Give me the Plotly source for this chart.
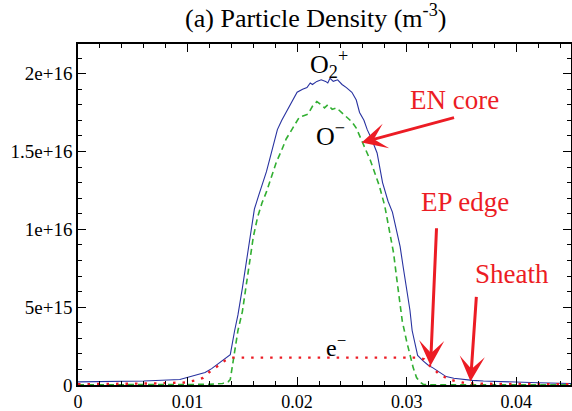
import plotly.graph_objects as go

# ---- data (densities in m^-3) ----
x_o2p = [0, 0.003, 0.006, 0.0093, 0.0105, 0.0116, 0.0122, 0.0127, 0.0132, 0.0139, 0.0143,
         0.0146, 0.015, 0.0154, 0.0158, 0.0161, 0.0165, 0.0168, 0.0172, 0.0175, 0.0179,
         0.0182, 0.0186, 0.019, 0.0195, 0.02, 0.0205, 0.0209, 0.0212, 0.0214, 0.0218,
         0.0222, 0.0226, 0.0228, 0.023, 0.0233, 0.0237, 0.0241, 0.0245, 0.025, 0.0254,
         0.0257, 0.0261, 0.0264, 0.0268, 0.0273, 0.0278, 0.0283, 0.0287, 0.0291, 0.0294,
         0.0297, 0.03, 0.0303, 0.0305, 0.0308, 0.031, 0.0315, 0.032, 0.0324, 0.033,
         0.0336, 0.0343, 0.0351, 0.036, 0.037, 0.0382, 0.04, 0.042, 0.045]
y_o2p = [0.020, 0.022, 0.026, 0.035, 0.060, 0.080, 0.105, 0.130, 0.160, 0.195, 0.35,
         0.45, 0.62, 0.81, 0.98, 1.13, 1.22, 1.28, 1.37, 1.45, 1.55,
         1.64, 1.70, 1.75, 1.82, 1.88, 1.90, 1.91, 1.94, 1.93, 1.95,
         1.96, 1.95, 1.94, 1.97, 1.95, 1.96, 1.93, 1.91, 1.88, 1.83,
         1.75, 1.70, 1.64, 1.58, 1.49, 1.30, 1.18, 1.11, 0.98, 0.89,
         0.75, 0.62, 0.48, 0.35, 0.25, 0.19, 0.155, 0.125, 0.110, 0.080,
         0.054, 0.043, 0.035, 0.030, 0.026, 0.022, 0.018, 0.014, 0.010]

x_om = [0, 0.005, 0.01, 0.012, 0.0132, 0.0137, 0.0139, 0.0141, 0.0144, 0.0146, 0.015,
        0.0154, 0.0157, 0.016, 0.0164, 0.0168, 0.0172, 0.0176, 0.0181, 0.0186, 0.019,
        0.0196, 0.0202, 0.0206, 0.021, 0.0214, 0.0218, 0.0222, 0.0225, 0.0228, 0.0232,
        0.0236, 0.0241, 0.0245, 0.025, 0.0254, 0.0257, 0.026, 0.0263, 0.0267, 0.0271,
        0.0275, 0.028, 0.0284, 0.0288, 0.0291, 0.0294, 0.0296, 0.03, 0.0303, 0.0306,
        0.0309, 0.0312, 0.0315, 0.032, 0.035, 0.04, 0.045]
y_om = [0.001, 0.001, 0.002, 0.004, 0.010, 0.020, 0.035, 0.12, 0.24, 0.35, 0.47,
        0.65, 0.81, 0.95, 1.08, 1.17, 1.24, 1.33, 1.43, 1.51, 1.58,
        1.65, 1.72, 1.73, 1.74, 1.79, 1.82, 1.80, 1.78, 1.80, 1.77,
        1.78, 1.75, 1.72, 1.69, 1.65, 1.60, 1.56, 1.51, 1.44, 1.36,
        1.28, 1.15, 1.00, 0.85, 0.68, 0.53, 0.41, 0.28, 0.195, 0.11,
        0.048, 0.020, 0.005, 0.002, 0.001, 0.001, 0.001]

x_e = [0, 0.004, 0.007, 0.0098, 0.0107, 0.0114, 0.0121, 0.0128, 0.0134, 0.014, 0.02,
       0.025, 0.031, 0.0316, 0.0321, 0.0326, 0.033, 0.0335, 0.0339, 0.0345, 0.0351,
       0.036, 0.038, 0.045]
y_e = [0.005, 0.007, 0.010, 0.016, 0.029, 0.045, 0.090, 0.124, 0.156, 0.176, 0.177,
       0.177, 0.176, 0.165, 0.124, 0.095, 0.067, 0.050, 0.035, 0.025, 0.016,
       0.010, 0.007, 0.005]

SCALE = 1e16
x_ticks = [0, 0.01, 0.02, 0.03, 0.04]
x_ticktext = ["0", "0.01", "0.02", "0.03", "0.04"]
y_ticks = [0, 5e15, 1e16, 1.5e16, 2e16]
y_ticktext = ["0", "5e+15", "1e+16", "1.5e+16", "2e+16"]

FONT = "Liberation Serif, Times New Roman, serif"
RED = "rgb(236,28,36)"

fig = go.Figure()
fig.add_trace(go.Scatter(x=x_o2p, y=[v * SCALE for v in y_o2p], mode="lines",
                         line=dict(color="rgb(40,50,160)", width=1.1), showlegend=False))
fig.add_trace(go.Scatter(x=x_om, y=[v * SCALE for v in y_om], mode="lines",
                         line=dict(color="rgb(50,175,50)", width=1.6, dash="6px,4px"),
                         showlegend=False))
fig.add_trace(go.Scatter(x=x_e, y=[v * SCALE for v in y_e], mode="lines",
                         line=dict(color=RED, width=2.4, dash="2.5px,7px"),
                         showlegend=False))

axis_common = dict(showline=True, linecolor="black", linewidth=1.5, mirror="allticks",
                   ticks="inside", ticklen=8, tickwidth=1.2, tickcolor="black",
                   showgrid=False, zeroline=False, automargin=False)

fig.update_xaxes(range=[0, 0.045], tickvals=x_ticks, ticktext=x_ticktext,
                 tickfont=dict(family=FONT, size=18, color="black"),
                 minor=dict(ticks="inside", ticklen=4, tickwidth=1, tickcolor="black",
                            dtick=0.002, tick0=0),
                 **axis_common)
fig.update_yaxes(range=[0, 2.19e16], tickvals=y_ticks, ticktext=y_ticktext,
                 tickfont=dict(family=FONT, size=19, color="black"),
                 minor=dict(ticks="inside", ticklen=4, tickwidth=1, tickcolor="black",
                            dtick=1e15, tick0=0),
                 **axis_common)

annotations = [
    dict(x=0.02288, y=2.06e16, text="O<sub>2</sub><sup>+</sup>", showarrow=False,
         font=dict(family=FONT, size=26, color="black")),
    dict(x=0.02306, y=1.61e16, text="O<sup>−</sup>", showarrow=False,
         font=dict(family=FONT, size=26, color="black")),
    dict(x=0.02352, y=2.5e15, text="e<sup>−</sup>", showarrow=False,
         font=dict(family=FONT, size=24, color="black")),
    dict(x=0.03437, y=1.83e16, text="EN core", showarrow=False,
         font=dict(family=FONT, size=27, color=RED)),
    dict(x=0.03528, y=1.175e16, text="EP edge", showarrow=False,
         font=dict(family=FONT, size=27, color=RED)),
    dict(x=0.03965, y=7.1e15, text="Sheath", showarrow=False,
         font=dict(family=FONT, size=27, color=RED)),
]
arrows = [
    ((0.03446, 1.72e16), (0.02589, 1.557e16)),
    ((0.03273, 1.016e16), (0.03218, 1.24e15)),
    ((0.03637, 5.76e15), (0.03583, 2.2e14)),
]
for (tx, ty), (hx, hy) in arrows:
    annotations.append(dict(x=hx, y=hy, ax=tx, ay=ty, axref="x", ayref="y", xref="x", yref="y",
                            text="", showarrow=True, arrowhead=3, arrowsize=1.4,
                            arrowwidth=3, arrowcolor=RED, standoff=0, startstandoff=0))

fig.update_layout(
    width=572, height=411,
    margin=dict(l=78, r=1, t=44, b=26),
    paper_bgcolor="white", plot_bgcolor="white",
    font=dict(family=FONT),
    title=dict(text="(a) Particle Density (m<sup>-3</sup>)", x=0.552, xanchor="center",
               y=0.957, yanchor="middle", font=dict(family=FONT, size=26, color="black"),
               automargin=False),
    annotations=annotations,
)

fig.write_html("out.html")
